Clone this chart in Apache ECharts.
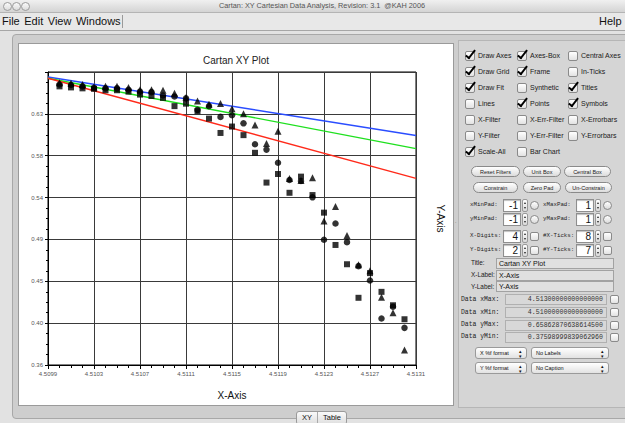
<!doctype html>
<html lang="en">
<head>
<meta charset="utf-8">
<title>Cartan XY Plot</title>
<script src="https://cdn.jsdelivr.net/npm/echarts@6/dist/echarts.min.js"></script>
<style>
body{margin:0;width:625px;height:423px;overflow:hidden;background:#e2e2e2;position:relative;
  font-family:"Liberation Sans",Arial,sans-serif;color:#111}
.abs{position:absolute}
#titlebar{left:0;top:0;width:625px;height:12px;background:linear-gradient(#f0f0f0,#d4d4d4);border-bottom:1px solid #b4b4b4}
#wintitle{left:0;top:0;width:644px;text-align:center;font-size:7.3px;line-height:12px;color:#555}
.light{top:2px;width:7px;height:7px;border-radius:50%;border:1px solid #9c9c9c;background:linear-gradient(#fafafa,#dcdcdc)}
#menubar{left:0;top:13px;width:625px;height:17px;background:#e8e8e8;border-bottom:1px solid #a6a6a6;font-size:11px;line-height:17px}
#frame{left:12px;top:34px;width:625px;height:383px;background:#cecece;border:1px solid #a8a8a8;border-radius:4px}
#plotbox{left:18px;top:43px;width:434px;height:361px;border:1px solid #9a9a9a;background:#fff}
#chart{left:19px;top:44px;width:434px;height:361px}
#side{left:458px;top:40px;width:170px;height:366px;background:#d5d5d5;border:1px solid #b6b6b6}
.cb{border:1px solid #8a8a8a;border-radius:2px;background:linear-gradient(#fff,#e2e2e2);box-sizing:border-box}
.cb.on::after{content:"";position:absolute;left:2px;top:-4px;width:3px;height:9px;border-right:2px solid #000;border-bottom:2px solid #000;transform:rotate(38deg)}
.lbl{font-size:7px;line-height:12px;white-space:nowrap;color:#1a1a1a}
.lbl.sm{font-size:6.4px}
.btn{border:1px solid #8a8a8a;border-radius:6px;background:linear-gradient(#ffffff,#dcdcdc);font-size:5.5px;line-height:10px;text-align:center;box-sizing:border-box;color:#222;white-space:nowrap}
.mono{font-family:"Liberation Mono","DejaVu Sans Mono",monospace;font-size:5.8px;line-height:13px;white-space:nowrap;color:#222}
.mono.dl{font-size:6.4px}
.fld{background:#fff;border:1px solid #8e8e8e;box-shadow:inset 0 1px 1px rgba(0,0,0,.25);font-size:10px;line-height:11px;text-align:right;padding-right:2px;box-sizing:border-box}
.spin{width:6px;height:13px;border:1px solid #999;border-radius:2px;background:linear-gradient(#fff,#d8d8d8);box-sizing:border-box}
.spin::before,.spin::after{content:"";position:absolute;left:1px;border-left:1.5px solid transparent;border-right:1.5px solid transparent}
.spin::before{top:2px;border-bottom:2.5px solid #222}
.spin::after{bottom:2px;border-top:2.5px solid #222}
.rad{border:1px solid #8a8a8a;border-radius:50%;background:linear-gradient(#fff,#dadada);box-sizing:border-box}
.tfld{background:#e0e0e0;border:1px solid #a2a2a2;font-size:7px;line-height:9px;padding-left:2px;box-sizing:border-box;white-space:nowrap}
.dfld{background:#d8d8d8;border:1px solid #b0b0b0;font-family:"Liberation Mono","DejaVu Sans Mono",monospace;font-size:6.6px;line-height:9px;text-align:right;padding-right:3px;box-sizing:border-box;color:#333}
.dd{border:1px solid #9a9a9a;border-radius:3px;background:linear-gradient(#fff,#e2e2e2);font-size:5.5px;line-height:11px;padding-left:4px;box-sizing:border-box;white-space:nowrap}
.dd::after{content:"\25B4\A\25BE";white-space:pre;position:absolute;right:4px;top:0;font-size:5px;line-height:5px;padding-top:1px}
#tabs{left:296px;top:411px;width:51px;height:14px;border:1px solid #9a9a9a;border-radius:3px;background:linear-gradient(#fafafa,#dedede);font-size:7.5px;line-height:12px;box-sizing:border-box}
</style>
</head>
<body>
<div id="titlebar" class="abs">
  <div class="abs light" style="left:3px"></div>
  <div class="abs light" style="left:12px"></div>
  <div class="abs light" style="left:21px"></div>
  <div id="wintitle" class="abs">Cartan: XY Cartesian Data Analysis, Revision: 3.1&nbsp; @KAH 2006</div>
</div>
<div id="menubar" class="abs">
  <span class="abs" style="left:2px;word-spacing:1.5px">File Edit View Windows</span>
  <span class="abs" style="left:122px;top:2px;height:13px;border-left:1px solid #9a9a9a"></span>
  <span class="abs" style="left:599px">Help</span>
</div>
<div id="frame" class="abs"></div>
<div id="plotbox" class="abs"></div>
<div id="chart" class="abs"></div>
<div class="abs" style="left:455px;top:221px;font-size:6px;color:#444">&#729;</div>
<div id="side" class="abs"></div>
<div id="tabs" class="abs">
  <span class="abs" style="left:5px">XY</span>
  <span class="abs" style="left:20px;top:0;height:12px;border-left:1px solid #aaa"></span>
  <span class="abs" style="left:26px">Table</span>
</div>

<script>
// x positions of the samples
var xValues = [4.5100, 4.5101, 4.5102, 4.5103, 4.5104, 4.5105, 4.5106, 4.5107,
               4.5108, 4.5109, 4.5110, 4.5111, 4.5112, 4.5113, 4.5114, 4.5115,
               4.5116, 4.5117, 4.5118, 4.5119, 4.5120, 4.5121, 4.5122, 4.5123,
               4.5124, 4.5125, 4.5126, 4.5127, 4.5128, 4.5129, 4.5130];
// three data sets (square / circle / triangle markers)
var squareY = [0.6548, 0.6537, 0.6527, 0.6522, 0.6507, 0.6507, 0.6492, 0.6461,
               0.6446, 0.6426, 0.6339, 0.6365, 0.6286, 0.6207, 0.6055, 0.6123,
               0.6032, 0.5845, 0.5530, 0.5621, 0.5422, 0.5593, 0.5398, 0.5212,
               0.4870, 0.4666, 0.4311, 0.4572, 0.4374, 0.4232, 0.4084];
var circleY = [0.6568, 0.6563, 0.6548, 0.6532, 0.6527, 0.6527, 0.6512, 0.6492,
               0.6487, 0.6451, 0.6441, 0.6421, 0.6299, 0.6339, 0.6225, 0.6243,
               0.6157, 0.5936, 0.5879, 0.5740, 0.5557, 0.5547, 0.5374, 0.4925,
               0.5097, 0.4900, 0.4646, 0.4494, 0.4092, 0.4217, 0.3993];
var triangleY = [0.6586, 0.6580, 0.6568, 0.6542, 0.6548, 0.6548, 0.6537, 0.6512,
                 0.6512, 0.6507, 0.6476, 0.6431, 0.6393, 0.6360, 0.6367, 0.6312,
                 0.6258, 0.6139, 0.5943, 0.6072, 0.5574, 0.5552, 0.5580, 0.5124,
                 0.5278, 0.4971, 0.4660, 0.4597, 0.4318, 0.4153, 0.3760];
// fitted lines, end points at the axis limits
var fitX = [4.5099, 4.5131];
var blueFit = [0.6647, 0.6028];
var greenFit = [0.6634, 0.5889];
var redFit = [0.6634, 0.5575];
// tick labels
var xTickLabels = ['4.5099', '4.5103', '4.5107', '4.5111', '4.5115', '4.5119', '4.5123', '4.5127', '4.5131'];
var yTickLabels = ['0.36', '0.40', '0.45', '0.49', '0.54', '0.58', '0.63', '0.67'];

// axis scale: 8 x ticks, 7 y ticks
var X_MIN = 4.5099, X_STEP = 0.0004;
var Y_MIN = 0.36, Y_STEP = 0.31 / 7;

function pts(xs, ys) {
    return xs.map(function (x, i) {
        return [(x - X_MIN) / X_STEP, (ys[i] - Y_MIN) / Y_STEP];
    });
}

var myChart = echarts.init(document.getElementById('chart'), null, {renderer: 'svg'});
var font = '"Liberation Sans", Arial, sans-serif';
var option = {
    animation: false,
    backgroundColor: '#fff',
    textStyle: {fontFamily: font},
    title: {
        text: 'Cartan XY Plot',
        left: 'center',
        top: 6,
        textStyle: {fontSize: 10, fontWeight: 'normal', color: '#222', fontFamily: font}
    },
    grid: {left: 29, top: 28, right: 28, bottom: 27, show: true, borderColor: '#000', borderWidth: 1},
    xAxis: {
        type: 'value', min: 0, max: 8, interval: 1,
        name: 'X-Axis', nameLocation: 'middle', nameGap: 25,
        nameTextStyle: {fontSize: 10, color: '#111', fontFamily: font},
        axisLine: {lineStyle: {color: '#000'}},
        axisTick: {length: 4, lineStyle: {color: '#000'}},
        minorTick: {show: true, splitNumber: 4, length: 3, lineStyle: {color: '#000'}},
        splitLine: {lineStyle: {color: '#3a3a3a', width: 1}},
        axisLabel: {fontSize: 6, color: '#555', margin: 6,
            formatter: function (v) { return xTickLabels[Math.round(v)]; }}
    },
    yAxis: [{
        type: 'value', min: 0, max: 7, interval: 1,
        axisLine: {show: true, lineStyle: {color: '#000'}},
        axisTick: {show: true, length: 3, lineStyle: {color: '#000'}},
        minorTick: {show: true, splitNumber: 4, length: 2, lineStyle: {color: '#000'}},
        splitLine: {lineStyle: {color: '#3a3a3a', width: 1}},
        axisLabel: {fontSize: 6, color: '#555', margin: 5, showMaxLabel: false,
            formatter: function (v) { return yTickLabels[Math.round(v)]; }}
    }, {
        type: 'value', min: 0, max: 7, position: 'right',
        name: 'Y-Axis', nameLocation: 'middle', nameGap: 19, nameRotate: -90,
        nameTextStyle: {fontSize: 10, color: '#111', fontFamily: font},
        axisLine: {show: false}, axisTick: {show: false},
        axisLabel: {show: false}, splitLine: {show: false}
    }],
    series: [
        {type: 'line', data: pts(fitX, blueFit), showSymbol: false, z: 2,
            lineStyle: {color: '#2a4dff', width: 1.4}},
        {type: 'line', data: pts(fitX, greenFit), showSymbol: false, z: 2,
            lineStyle: {color: '#1fe01f', width: 1.4}},
        {type: 'line', data: pts(fitX, redFit), showSymbol: false, z: 2,
            lineStyle: {color: '#ff2a1a', width: 1.4}},
        {type: 'scatter', data: pts(xValues, squareY), symbol: 'rect', symbolSize: 6, z: 3,
            itemStyle: {color: '#000'}},
        {type: 'scatter', data: pts(xValues, circleY), symbol: 'circle', symbolSize: 6.5, z: 4,
            itemStyle: {color: '#000'}},
        {type: 'scatter', data: pts(xValues, triangleY), symbol: 'triangle', symbolSize: 7, z: 5,
            itemStyle: {color: '#000'}}
    ]
};
myChart.setOption(option);

// ---- side control panel ----
function add(cls, x, y, w, h, text) {
    var d = document.createElement('div');
    d.className = 'abs ' + cls;
    d.style.left = x + 'px';
    d.style.top = y + 'px';
    if (w) d.style.width = w + 'px';
    if (h) d.style.height = h + 'px';
    if (text != null) d.textContent = text;
    document.body.appendChild(d);
    return d;
}

var boxes = [
    [['Draw Axes', 1], ['Axes-Box', 1], ['Central Axes', 0]],
    [['Draw Grid', 1], ['Frame', 1], ['In-Ticks', 0]],
    [['Draw Fit', 1], ['Synthetic', 0], ['Titles', 1]],
    [['Lines', 0], ['Points', 1], ['Symbols', 1]],
    [['X-Filter', 0], ['X-Err-Filter', 0], ['X-Errorbars', 0]],
    [['Y-Filter', 0], ['Y-Err-Filter', 0], ['Y-Errorbars', 0]],
    [['Scale-All', 1], ['Bar Chart', 0]]
];
var colX = [465, 517, 568];
boxes.forEach(function (row, r) {
    var y = 56 + r * 16;
    row.forEach(function (c, i) {
        add('cb' + (c[1] ? ' on' : ''), colX[i], y - 5, 10, 10);
        add('lbl', colX[i] + 13, y - 6, null, 12, c[0]);
    });
});

[['Reset Filters', 471, 520, 166], ['Unit Box', 523, 561, 166], ['Central Box', 564, 611, 166],
 ['Constrain', 473, 518, 182], ['Zero Pad', 523, 561, 182], ['Un-Constrain', 565, 612, 182]]
    .forEach(function (b) { add('btn', b[1], b[3], b[2] - b[1], 11, b[0]); });

var spins = [
    ['xMinPad:', '-1', 'rad', 'xMaxPad:', '1', 'rad', 205],
    ['yMinPad:', '-1', 'rad', 'yMaxPad:', '1', 'rad', 219],
    ['X-Digits:', '4', 'cb', '#X-Ticks:', '8', 'cb', 236],
    ['Y-Digits:', '2', 'cb', '#Y-Ticks:', '7', 'cb', 250]
];
spins.forEach(function (s) {
    var y = s[6];
    add('mono', 470, y - 7, null, 13, s[0]);
    add('fld', 503, y - 6.5, 18, 13, s[1]);
    add('spin', 522, y - 6.5);
    add(s[2], 530, y - 4.5, 9, 9);
    add('mono', 543, y - 7, null, 13, s[3]);
    add('fld', 576, y - 6.5, 18, 13, s[4]);
    add('spin', 595, y - 6.5);
    add(s[5], 603, y - 4.5, 9, 9);
});

[['Title:', 'Cartan XY Plot', 263], ['X-Label:', 'X-Axis', 275], ['Y-Label:', 'Y-Axis', 286.5]]
    .forEach(function (t) {
        add('lbl sm', 471, t[2] - 6, null, 12, t[0]);
        add('tfld', 496, t[2] - 5.5, 118, 11, t[1]);
    });

[['Data xMax:', '4.51300000000000000', 299.5], ['Data xMin:', '4.51000000000000000', 312.5],
 ['Data yMax:', '0.65862870638614500', 325], ['Data yMin:', '0.37598999839062960', 337]]
    .forEach(function (d) {
        add('mono dl', 461, d[2] - 7, null, 13, d[0]);
        add('dfld', 505, d[2] - 5.5, 102, 11, d[1]);
        add('cb', 610, d[2] - 4.5, 9, 9);
    });

[['X  %f format', 475, 527, 347], ['No Labels', 531, 609, 347],
 ['Y  %f format', 475, 527, 362], ['No Caption', 531, 609, 362]]
    .forEach(function (d) { add('dd', d[1], d[3], d[2] - d[1], 12, d[0]); });
</script>
</body>
</html>
